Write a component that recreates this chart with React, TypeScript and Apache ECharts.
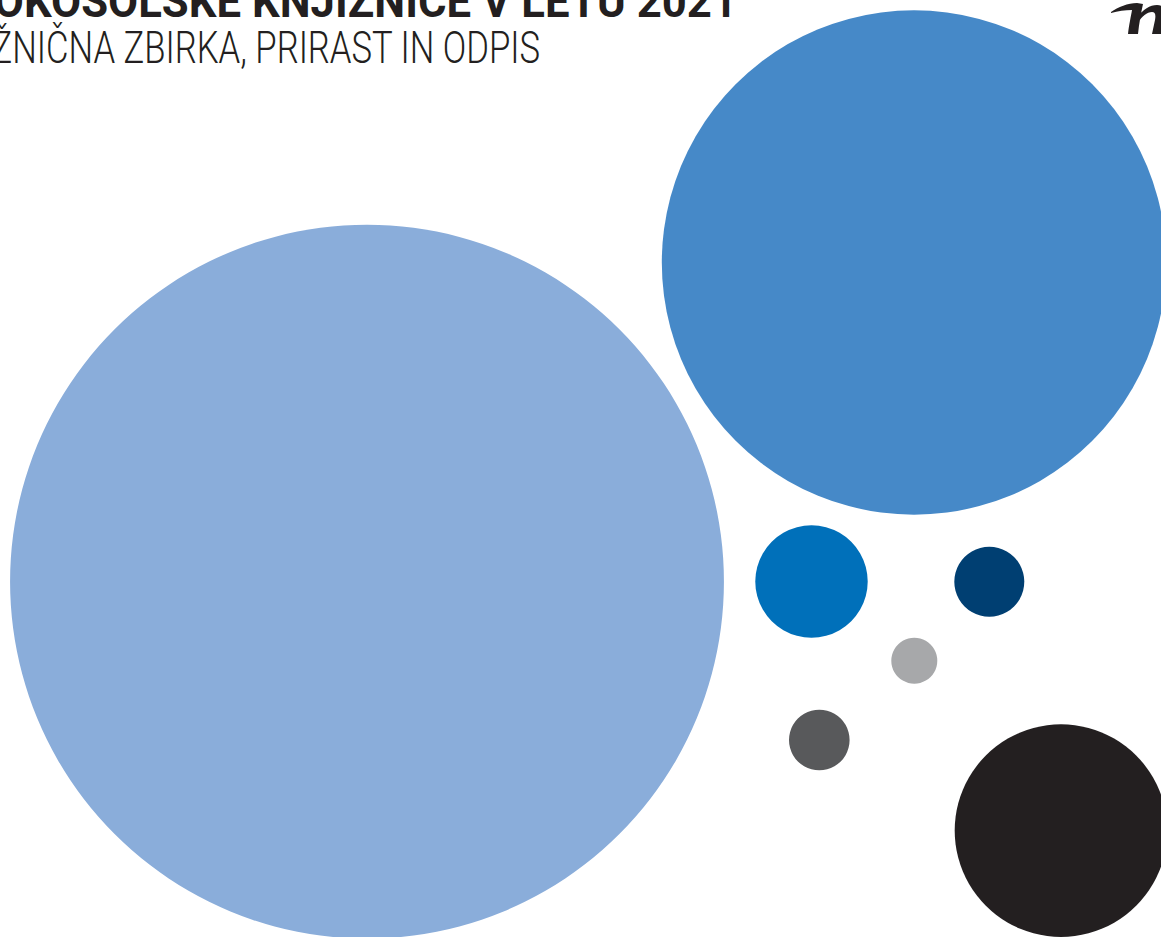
import React, { useEffect, useRef } from "react";
import * as echarts from "echarts";

const titleText = "VISOKOŠOLSKE KNJIŽNICE V LETU 2021";
const subtitleText = "KNJIŽNIČNA ZBIRKA, PRIRAST IN ODPIS";

const bubbleNames = ["A", "B", "C", "D", "E", "F", "G"];
const bubbleX = [367, 914, 811.5, 989.3, 914.3, 819.3, 1061];
const bubbleY = [581.7, 262.5, 581.5, 581.7, 660.7, 740, 830.6];
const bubbleValues = [127400, 63600, 3160, 1225, 529, 918, 11300];
const bubbleColors = ["#8aadda", "#4689c8", "#0070ba", "#003f72", "#a7a8aa", "#58595b", "#231f20"];

const logoPath =
  "M 1111 12 C 1118 7 1128 3 1137 3 L 1143 4 C 1141 13 1139 24 1138 34 L 1128 34 C 1129 25 1131 16 1132 10 C 1125 10 1118 11 1111 13 Z " +
  "M 1137 18 C 1143 9 1150 5 1157 5 C 1165 5 1166 12 1164 21 L 1161 34 L 1152 34 L 1155 20 C 1156 14 1155 12 1152 12 C 1147 12 1142 16 1138 23 Z";

let logoRegistered = false;

export default function App() {
  const ref = useRef<HTMLDivElement>(null);
  useEffect(() => {
    document.body.style.margin = "0";
    if (!logoRegistered) {
      echarts.graphic.registerShape("logo", echarts.graphic.extendPath(logoPath, {}) as any);
      logoRegistered = true;
    }
    const chart = echarts.init(ref.current!, undefined, { renderer: "svg" });
    chart.setOption({
      animation: false,
      backgroundColor: "#ffffff",
      grid: { left: 0, right: 0, top: 0, bottom: 0 },
      xAxis: { type: "value", min: 0, max: 1161, show: false },
      yAxis: { type: "value", min: 0, max: 937, inverse: true, show: false },
      series: [
        {
          type: "scatter",
          silent: true,
          data: bubbleNames.map((n, i) => ({
            name: n,
            value: [bubbleX[i], bubbleY[i], bubbleValues[i]],
            itemStyle: { color: bubbleColors[i], opacity: 1 },
          })),
          symbolSize: (v: number[]) => 2 * Math.sqrt(v[2]),
        },
      ],
      graphic: [
        {
          type: "text",
          x: 737,
          y: 24,
          scaleX: 0.95,
          style: {
            text: titleText,
            fontFamily: "Roboto",
            fontWeight: "bold",
            fontSize: 46,
            fill: "#231f20",
            align: "right",
            verticalAlign: "bottom",
          },
        },
        {
          type: "text",
          x: 540,
          y: 70,
          scaleX: 0.77,
          style: {
            text: subtitleText,
            fontFamily: "Roboto",
            fontWeight: 300,
            fontSize: 45,
            fill: "#231f20",
            align: "right",
            verticalAlign: "bottom",
          },
        },
        {
          type: "logo",
          x: 0,
          y: 0,
          style: { fill: "#231f20" },
        },
      ],
    });
    return () => chart.dispose();
  }, []);
  return <div ref={ref} style={{ width: 1161, height: 937 }} />;
}
